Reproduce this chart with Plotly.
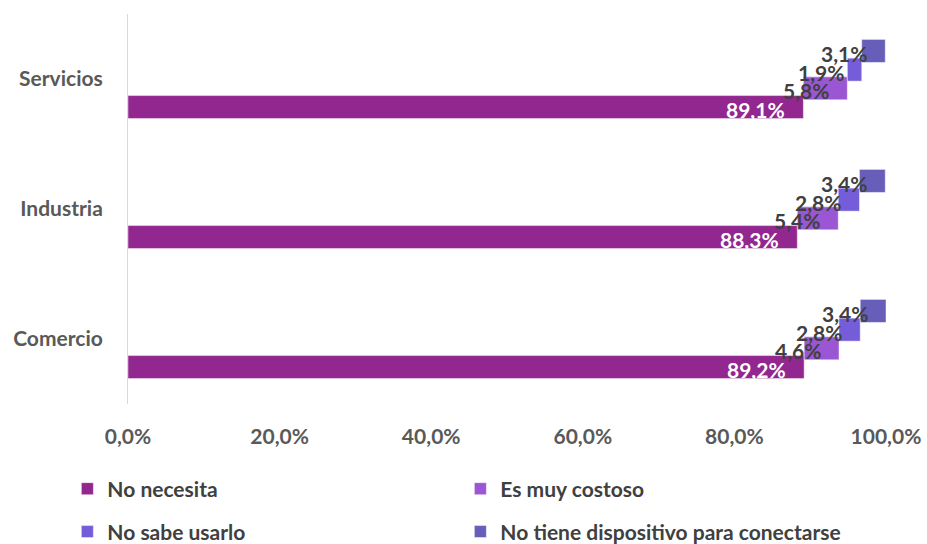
import plotly.graph_objects as go

categories = ["Comercio", "Industria", "Servicios"]
series_names = ["No necesita", "Es muy costoso", "No sabe usarlo", "No tiene dispositivo para conectarse"]
no_necesita = [89.2, 88.3, 89.1]
es_muy_costoso = [4.6, 5.4, 5.8]
no_sabe_usarlo = [2.8, 2.8, 1.9]
no_tiene_dispositivo = [3.4, 3.4, 3.1]
x_ticks = [0, 20, 40, 60, 80, 100]
x_tick_labels = ["0,0%", "20,0%", "40,0%", "60,0%", "80,0%", "100,0%"]

series_values = [no_necesita, es_muy_costoso, no_sabe_usarlo, no_tiene_dispositivo]
colors = ["#92278F", "#9B57D3", "#755DD9", "#665EB8"]
label_colors = ["#FFFFFF", "#404040", "#404040", "#404040"]

FONT = "Lato"
bar_w = 0.177
step = 0.144
centers = [(-1.5 + i) * step for i in range(4)]

fig = go.Figure()
annotations = []
bases = [0.0] * len(categories)
for i, (name, vals) in enumerate(zip(series_names, series_values)):
    fig.add_trace(go.Bar(
        y=categories, x=vals, base=list(bases), name=name, orientation="h",
        offset=centers[i] - bar_w / 2, width=bar_w,
        marker=dict(color=colors[i], line=dict(color="rgba(255,255,255,0.45)", width=1)),
        legend="legend" if i < 2 else "legend2",
        hoverinfo="skip",
    ))
    for j, v in enumerate(vals):
        end = bases[j] + v
        annotations.append(dict(
            x=end, y=j + centers[i], xref="x", yref="y",
            text="<b>" + f"{v:.1f}".replace(".", ",") + "%</b>",
            showarrow=False, xanchor="right", yanchor="middle", xshift=-16, yshift=-2.5,
            font=dict(family=FONT, size=21, color=label_colors[i]),
        ))
        bases[j] = end

legend_common = dict(
    orientation="h", xanchor="left", yanchor="middle",
    entrywidth=348, entrywidthmode="pixels",
    font=dict(family=FONT, size=21, color="#404040", weight="bold"),
    itemclick=False, itemdoubleclick=False, bgcolor="rgba(0,0,0,0)",
)

fig.update_layout(
    width=927, height=544,
    margin=dict(l=128, r=41, t=14, b=140, autoexpand=False),
    paper_bgcolor="white", plot_bgcolor="white",
    barmode="overlay",
    showlegend=True,
    legend=dict(x=-0.080, y=-0.218, **legend_common),
    legend2=dict(x=-0.080, y=-0.328, **legend_common),
    annotations=annotations,
    xaxis=dict(
        range=[0, 100], tickvals=x_ticks, ticktext=x_tick_labels,
        showgrid=False, zeroline=False, showline=False,
        tickfont=dict(family=FONT, size=21, color="#595959", weight="bold"),
        ticks="", ticklabelstandoff=18, fixedrange=True,
    ),
    yaxis=dict(
        categoryorder="array", categoryarray=categories,
        range=[-0.5, 2.5],
        showgrid=False, zeroline=False, showline=True, linecolor="#D9D9D9", linewidth=1,
        tickfont=dict(family=FONT, size=21, color="#595959", weight="bold"),
        ticks="", ticklabelstandoff=20, fixedrange=True,
    ),
)

fig.write_html("out.html")
